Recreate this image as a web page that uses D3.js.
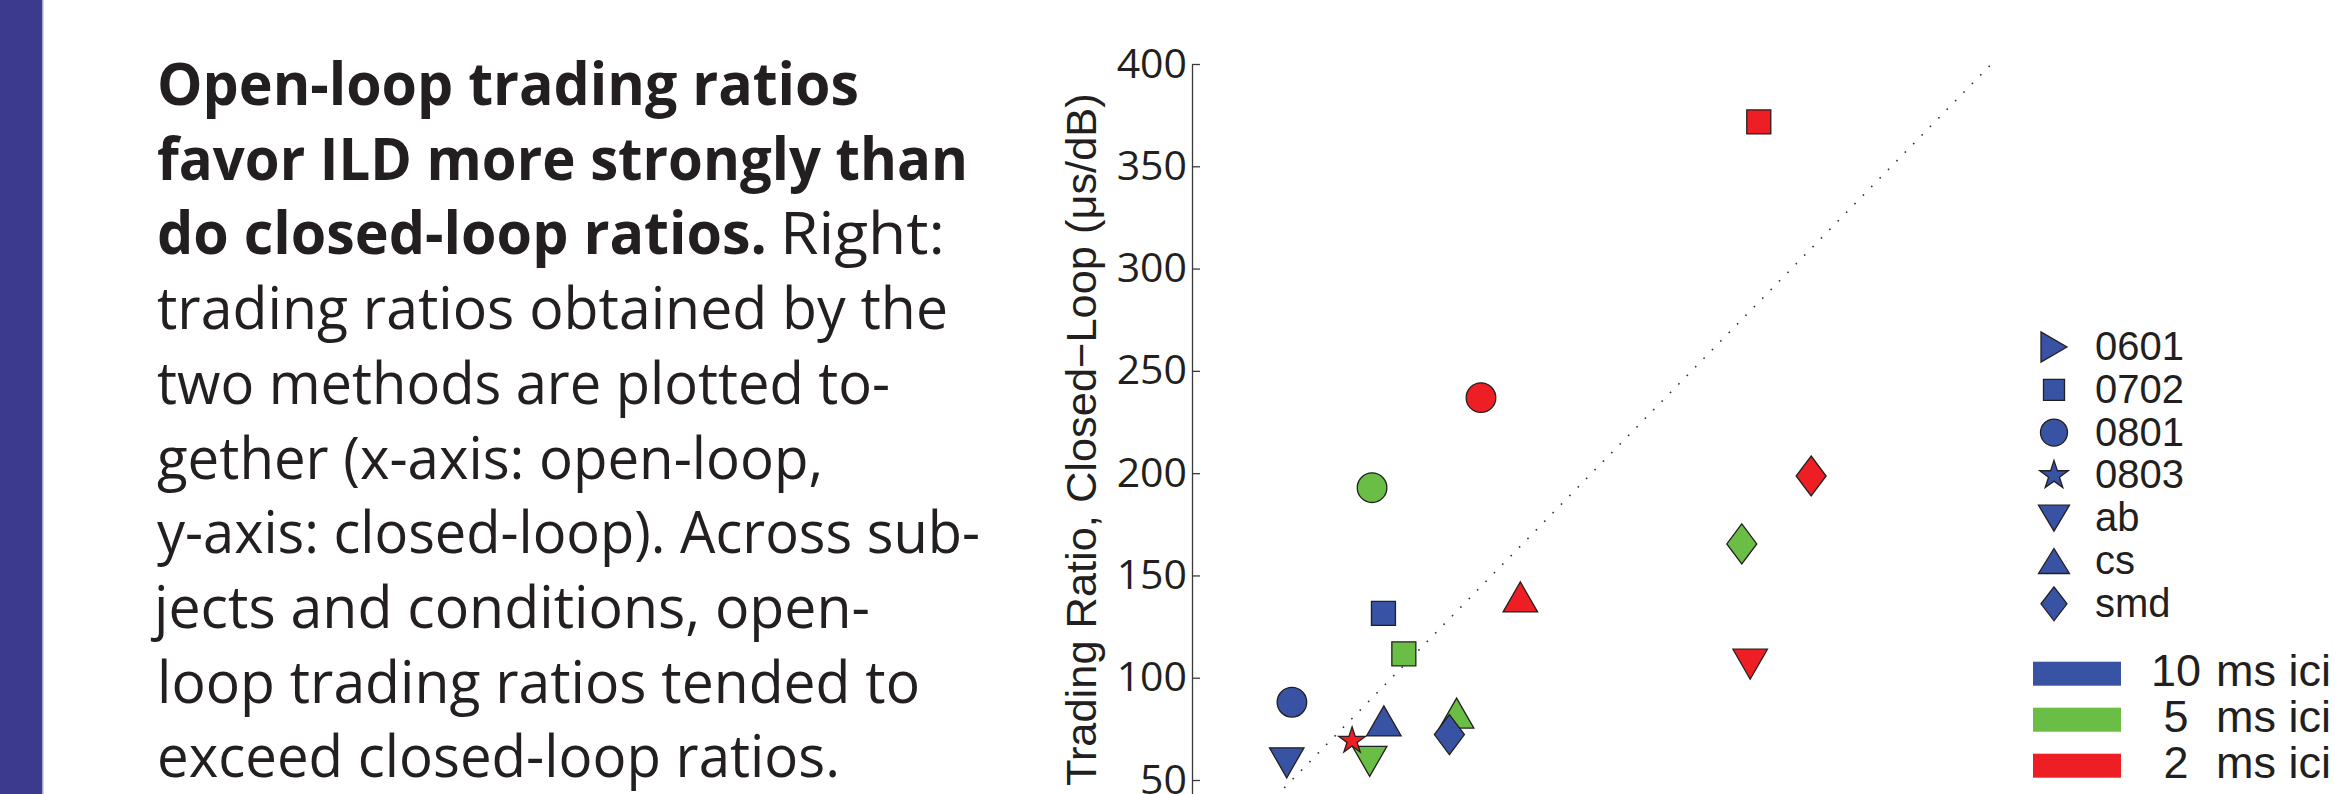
<!DOCTYPE html>
<html>
<head>
<meta charset="utf-8">
<script src="https://cdn.jsdelivr.net/npm/d3@7"></script>
<style>
  html, body { margin: 0; padding: 0; background: #ffffff; }
  svg { display: block; }
</style>
</head>
<body>
<script>
// ---- data -------------------------------------------------------------
const subjects = ["0601", "0702", "0801", "0803", "ab", "cs", "smd"];
const subjectShapes = ["triRight", "square", "circle", "star", "triDown", "triUp", "diamond"];

const conditions = ["10", "5", "2"];
const conditionColors = ["#3953a4", "#6abd45", "#ed1f24"];

// open-loop (x) and closed-loop (y) trading ratios, µs/dB, one entry per subject
const openLoop10   = [null,  95.8,  50.0, null,  47.4,  96.0, 128.8];
const closedLoop10 = [null, 131.5,  88.0, null,  58.4,  78.9,  72.2];
const openLoop5    = [null, 106.0,  90.1, null,  88.9, 132.4, 275.1];
const closedLoop5  = [null, 111.7, 192.9, null,  59.1,  82.7, 165.4];
const openLoop2    = [null, 283.6, 144.6,  80.1, 279.3, 164.3, 309.8];
const closedLoop2  = [null, 371.7, 236.9,  69.2, 106.6, 139.5, 198.6];

const yTicks = [0, 50, 100, 150, 200, 250, 300, 350, 400];

// ---- caption text -----------------------------------------------------
const captionLines = [
  [{t: "Open-loop trading ratios", b: true, x0: 157, x1: 859}],
  [{t: "favor ILD more strongly than", b: true, x0: 157, x1: 968}],
  [{t: "do closed-loop ratios.", b: true, x0: 157, x1: 767},
   {t: "Right:", b: false, x0: 780, x1: 945}],
  [{t: "trading ratios obtained by the", b: false, x0: 157, x1: 948}],
  [{t: "two methods are plotted to-", b: false, x0: 157, x1: 890}],
  [{t: "gether (x-axis: open-loop,", b: false, x0: 157, x1: 823}],
  [{t: "y-axis: closed-loop). Across sub-", b: false, x0: 157, x1: 980}],
  [{t: "jects and conditions, open-", b: false, x0: 154, x1: 870}],
  [{t: "loop trading ratios tended to", b: false, x0: 157, x1: 920}],
  [{t: "exceed closed-loop ratios.", b: false, x0: 157, x1: 840}]
];

// ---- canvas -----------------------------------------------------------
const W = 2335, H = 794;
const svg = d3.select("body").append("svg")
  .attr("width", W).attr("height", H)
  .attr("viewBox", `0 0 ${W} ${H}`);

// side bar
svg.append("rect").attr("x", 0).attr("y", 0).attr("width", 42).attr("height", H)
  .attr("fill", "#3c3a8f");
svg.append("rect").attr("x", 42).attr("y", 0).attr("width", 1.5).attr("height", H)
  .attr("fill", "#a9a8c8");

// caption
const cap = svg.append("g").attr("fill", "#231f20")
  .style("font-family", "'Open Sans', 'Noto Sans', sans-serif")
  .style("font-size", "59px");
captionLines.forEach((line, i) => {
  const yb = 105 + i * 74.7;
  line.forEach(seg => {
    cap.append("text")
      .attr("x", seg.x0).attr("y", yb)
      .attr("font-weight", seg.b ? 700 : 400)
      .attr("textLength", seg.x1 - seg.x0)
      .attr("lengthAdjust", "spacingAndGlyphs")
      .text(seg.t);
  });
});

// ---- scales -----------------------------------------------------------
const x = d3.scaleLinear().domain([0, 400]).range([1192, 1991.4]);
const y = d3.scaleLinear().domain([0, 400]).range([882.3, 64]);

// y axis (ticks point inward)
const yAxis = d3.axisLeft(y).tickValues(yTicks).tickSizeInner(-8).tickSizeOuter(0).tickPadding(5);
const gy = svg.append("g").attr("transform", `translate(${x(0)},0)`).call(yAxis);
gy.select(".domain").attr("stroke", "#3a3a3a").attr("stroke-width", 1.3);
gy.selectAll(".tick line").attr("stroke", "#3a3a3a").attr("stroke-width", 1.3);
gy.selectAll(".tick text")
  .attr("fill", "#231f20")
  .style("font-family", "'Open Sans', 'Noto Sans', sans-serif")
  .style("font-size", "41px");

// y axis title
svg.append("text")
  .attr("transform", "translate(1096,786) rotate(-90)")
  .attr("text-anchor", "start")
  .attr("fill", "#231f20")
  .style("font-family", "'Liberation Sans', Arial, sans-serif")
  .style("font-size", "43.4px")
  .text("Trading Ratio, Closed\u2212Loop (\u03bcs/dB)");

// unity line
svg.append("path")
  .attr("d", d3.line().x(d => x(d)).y(d => y(d))([0, 400]))
  .attr("fill", "none")
  .attr("stroke", "#333")
  .attr("stroke-width", 1.6)
  .attr("stroke-dasharray", "1.6,10.4");

// ---- marker shapes ----------------------------------------------------
function markerPath(shape, s) {
  const p = d3.path();
  if (shape === "square") {
    p.rect(-s.w / 2, -s.w / 2, s.w, s.w);
  } else if (shape === "circle") {
    p.moveTo(s.r, 0); p.arc(0, 0, s.r, 0, 2 * Math.PI); p.closePath();
  } else if (shape === "triUp") {
    p.moveTo(0, -s.h / 2); p.lineTo(s.w / 2, s.h / 2); p.lineTo(-s.w / 2, s.h / 2); p.closePath();
  } else if (shape === "triDown") {
    p.moveTo(0, s.h / 2); p.lineTo(s.w / 2, -s.h / 2); p.lineTo(-s.w / 2, -s.h / 2); p.closePath();
  } else if (shape === "triRight") {
    p.moveTo(s.w / 2, 0); p.lineTo(-s.w / 2, s.h / 2); p.lineTo(-s.w / 2, -s.h / 2); p.closePath();
  } else if (shape === "diamond") {
    p.moveTo(0, -s.h / 2); p.lineTo(s.w / 2, 0); p.lineTo(0, s.h / 2); p.lineTo(-s.w / 2, 0); p.closePath();
  } else if (shape === "star") {
    for (let k = 0; k < 10; k++) {
      const rad = k % 2 === 0 ? s.r : s.r * 0.382;
      const a = -Math.PI / 2 + k * Math.PI / 5;
      const px = rad * Math.cos(a), py = rad * Math.sin(a);
      if (k === 0) p.moveTo(px, py); else p.lineTo(px, py);
    }
    p.closePath();
  }
  return p.toString();
}

const plotSize = {
  triRight: {w: 30, h: 34.5}, square: {w: 24}, circle: {r: 14.8}, star: {r: 14},
  triDown: {w: 34.5, h: 30}, triUp: {w: 34.5, h: 30}, diamond: {w: 30, h: 40}
};
const legendSize = {
  triRight: {w: 26, h: 30}, square: {w: 21}, circle: {r: 13.5}, star: {r: 15},
  triDown: {w: 31, h: 26}, triUp: {w: 31, h: 25}, diamond: {w: 26, h: 34}
};

// ---- points -----------------------------------------------------------
const series = [
  {cond: 1, xs: openLoop5,  ys: closedLoop5},
  {cond: 0, xs: openLoop10, ys: closedLoop10},
  {cond: 2, xs: openLoop2,  ys: closedLoop2}
];
const pts = svg.append("g");
series.forEach(s => {
  const rows = subjects.map((name, i) => ({i, ox: s.xs[i], cy: s.ys[i]}))
    .filter(d => d.ox != null && d.cy != null);
  pts.selectAll(null).data(rows).enter().append("path")
    .attr("transform", d => `translate(${x(d.ox)},${y(d.cy)})`)
    .attr("d", d => markerPath(subjectShapes[d.i], plotSize[subjectShapes[d.i]]))
    .attr("fill", conditionColors[s.cond])
    .attr("stroke", "#231f20")
    .attr("stroke-width", 1.3)
    .attr("stroke-linejoin", "miter");
});

// ---- legends ----------------------------------------------------------
const leg = svg.append("g")
  .style("font-family", "'Liberation Sans', Arial, sans-serif")
  .attr("fill", "#231f20");
subjects.forEach((name, i) => {
  const cy = 347 + i * 42.8;
  leg.append("path")
    .attr("transform", `translate(2054,${cy})`)
    .attr("d", markerPath(subjectShapes[i], legendSize[subjectShapes[i]]))
    .attr("fill", conditionColors[0])
    .attr("stroke", "#231f20")
    .attr("stroke-width", 1.3);
  leg.append("text")
    .attr("x", 2095).attr("y", cy + 13)
    .style("font-size", "40px")
    .text(name);
});

conditions.forEach((c, i) => {
  const base = 685.7 + i * 46;
  leg.append("rect")
    .attr("x", 2033).attr("y", base - 24).attr("width", 88).attr("height", 24)
    .attr("fill", conditionColors[i]);
  leg.append("text")
    .attr("x", 2176).attr("y", base)
    .attr("text-anchor", "middle")
    .style("font-size", "45px")
    .text(c);
  leg.append("text")
    .attr("x", 2216).attr("y", base)
    .style("font-size", "45px")
    .text("ms ici");
});
</script>
</body>
</html>
